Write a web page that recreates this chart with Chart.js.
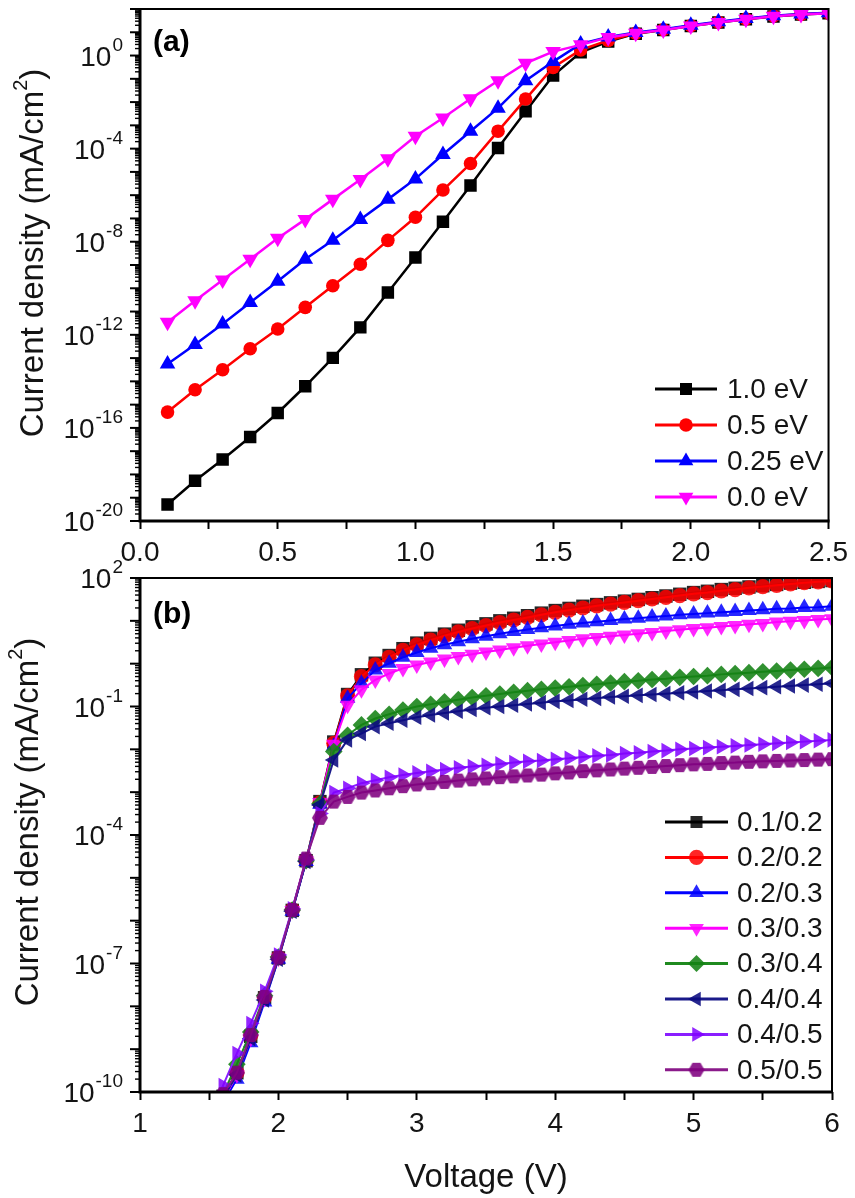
<!DOCTYPE html>
<html><head><meta charset="utf-8">
<script src="https://cdn.jsdelivr.net/npm/chart.js@4.4.1/dist/chart.umd.min.js"></script>
<style>
html,body{margin:0;padding:0;background:#fff;}
#wrap{position:relative;width:855px;height:1198px;background:#fff;overflow:hidden;}
#c1{position:absolute;left:0;top:0;}
#c2{position:absolute;left:0;top:560px;}
</style></head>
<body><div id="wrap"><canvas id="c1" width="855" height="575"></canvas><canvas id="c2" width="855" height="638"></canvas></div>
<script>
// ---------------- DATA : panel (a) ----------------
const voltageA = [0.1,0.2,0.3,0.4,0.5,0.6,0.7,0.8,0.9,1.0,1.1,1.2,1.3,1.4,1.5,1.6,1.7,1.8,1.9,2.0,2.1,2.2,2.3,2.4,2.5];
// log10 of current density (mA/cm2)
const logJ_10eV  = [-19.29,-18.27,-17.36,-16.39,-15.36,-14.21,-12.99,-11.68,-10.18,-8.68,-7.14,-5.58,-3.97,-2.40,-0.86,0.14,0.60,0.94,1.10,1.27,1.42,1.56,1.68,1.76,1.82];
const logJ_05eV  = [-15.32,-14.36,-13.50,-12.60,-11.75,-10.82,-9.89,-8.97,-7.94,-6.95,-5.78,-4.64,-3.25,-1.87,-0.51,0.24,0.65,0.96,1.11,1.28,1.43,1.57,1.70,1.77,1.83];
const logJ_025eV = [-13.25,-12.42,-11.53,-10.61,-9.70,-8.75,-7.94,-7.04,-6.18,-5.30,-4.25,-3.25,-2.26,-1.08,-0.26,0.50,0.80,0.99,1.13,1.30,1.45,1.59,1.71,1.78,1.84];
const logJ_00eV  = [-11.46,-10.54,-9.64,-8.75,-7.85,-7.04,-6.18,-5.33,-4.43,-3.47,-2.68,-1.86,-1.08,-0.33,0.17,0.46,0.78,0.96,1.10,1.27,1.42,1.56,1.69,1.76,1.82];
const labelsA = ['1.0 eV','0.5 eV','0.25 eV','0.0 eV'];
const xTickLabelsA = [0.0,0.5,1.0,1.5,2.0,2.5];
const yLabelExpA = [0,-4,-8,-12,-16,-20];

// ---------------- DATA : panel (b) ----------------
const voltageB = [1.5,1.6,1.7,1.8,1.9,2.0,2.1,2.2,2.3,2.4,2.5,2.6,2.7,2.8,2.9,3.0,3.1,3.2,3.3,3.4,3.5,3.6,3.7,3.8,3.9,4.0,4.1,4.2,4.3,4.4,4.5,4.6,4.7,4.8,4.9,5.0,5.1,5.2,5.3,5.4,5.5,5.6,5.7,5.8,5.9,6.0];
const logJ_01_02 = [-11.0,-10.1,-9.55,-8.7,-7.8,-6.87,-5.76,-4.6,-3.22,-1.83,-0.72,-0.26,0.01,0.19,0.35,0.48,0.59,0.69,0.78,0.86,0.93,1.00,1.06,1.12,1.18,1.24,1.29,1.34,1.38,1.42,1.46,1.50,1.54,1.58,1.62,1.66,1.69,1.73,1.76,1.79,1.82,1.85,1.88,1.90,1.92,1.94];
const logJ_02_02 = [-11.0,-10.1,-9.55,-8.68,-7.79,-6.86,-5.75,-4.6,-3.25,-1.86,-0.75,-0.30,-0.03,0.15,0.31,0.44,0.55,0.65,0.74,0.82,0.89,0.96,1.02,1.08,1.14,1.20,1.25,1.30,1.35,1.39,1.43,1.47,1.51,1.55,1.59,1.63,1.66,1.70,1.73,1.77,1.80,1.83,1.86,1.89,1.91,1.93];
const logJ_02_03 = [-11.2,-10.25,-9.7,-8.85,-7.9,-6.9,-5.78,-4.62,-3.28,-1.92,-0.81,-0.46,-0.15,0.01,0.15,0.26,0.36,0.44,0.51,0.58,0.64,0.70,0.75,0.80,0.84,0.88,0.92,0.95,0.98,1.01,1.04,1.06,1.09,1.11,1.14,1.16,1.18,1.20,1.22,1.24,1.26,1.28,1.29,1.31,1.32,1.34];
const logJ_03_03 = [-11.1,-10.2,-9.6,-8.75,-7.82,-6.88,-5.76,-4.6,-3.24,-1.88,-0.97,-0.61,-0.38,-0.23,-0.11,-0.03,0.04,0.11,0.17,0.22,0.27,0.32,0.37,0.42,0.46,0.50,0.54,0.58,0.61,0.64,0.67,0.70,0.73,0.76,0.79,0.82,0.84,0.87,0.89,0.92,0.94,0.97,0.99,1.01,1.03,1.05];
const logJ_03_04 = [-11.0,-10.05,-9.35,-8.6,-7.75,-6.85,-5.75,-4.6,-3.27,-2.05,-1.67,-1.43,-1.28,-1.18,-1.08,-1.00,-0.95,-0.89,-0.84,-0.79,-0.75,-0.71,-0.67,-0.63,-0.60,-0.57,-0.54,-0.51,-0.48,-0.45,-0.42,-0.40,-0.37,-0.35,-0.32,-0.30,-0.28,-0.25,-0.23,-0.21,-0.19,-0.17,-0.15,-0.13,-0.11,-0.09];
const logJ_04_04 = [-11.1,-10.15,-9.6,-8.75,-7.85,-6.9,-5.78,-4.62,-3.3,-2.25,-1.78,-1.63,-1.47,-1.39,-1.32,-1.25,-1.20,-1.15,-1.11,-1.07,-1.03,-1.00,-0.97,-0.94,-0.91,-0.88,-0.86,-0.83,-0.81,-0.78,-0.76,-0.74,-0.72,-0.70,-0.68,-0.66,-0.64,-0.62,-0.60,-0.58,-0.56,-0.54,-0.52,-0.50,-0.48,-0.46];
const logJ_04_05 = [-10.8,-9.85,-9.1,-8.4,-7.65,-6.8,-5.72,-4.58,-3.5,-3.01,-2.91,-2.79,-2.72,-2.65,-2.60,-2.55,-2.51,-2.47,-2.43,-2.40,-2.37,-2.34,-2.31,-2.28,-2.26,-2.23,-2.21,-2.18,-2.15,-2.13,-2.10,-2.08,-2.05,-2.03,-2.00,-1.98,-1.96,-1.94,-1.92,-1.90,-1.88,-1.86,-1.84,-1.82,-1.80,-1.78];
const logJ_05_05 = [-11.0,-10.05,-9.55,-8.67,-7.78,-6.86,-5.75,-4.55,-3.6,-3.22,-3.11,-3.01,-2.96,-2.91,-2.86,-2.82,-2.79,-2.76,-2.73,-2.70,-2.68,-2.65,-2.63,-2.61,-2.59,-2.56,-2.54,-2.51,-2.49,-2.47,-2.45,-2.43,-2.41,-2.39,-2.37,-2.35,-2.34,-2.32,-2.31,-2.29,-2.28,-2.27,-2.26,-2.25,-2.24,-2.23];
const labelsB = ['0.1/0.2','0.2/0.2','0.2/0.3','0.3/0.3','0.3/0.4','0.4/0.4','0.4/0.5','0.5/0.5'];
const xTickLabelsB = [1,2,3,4,5,6];
const yLabelExpB = [2,-1,-4,-7,-10];

// ---------------- STYLES ----------------
const FONT = '"Liberation Sans", Arimo, Arial, sans-serif';
const TXT = '#141414';

function hexagon(color, r) {
  const s = Math.ceil(r * 2 + 2);
  const c = document.createElement('canvas');
  c.width = s; c.height = s;
  const g = c.getContext('2d');
  g.fillStyle = color;
  g.beginPath();
  for (let i = 0; i < 6; i++) {
    const a = Math.PI / 3 * i;
    const px = s / 2 + r * Math.cos(a), py = s / 2 + r * Math.sin(a);
    if (i) g.lineTo(px, py); else g.moveTo(px, py);
  }
  g.closePath(); g.fill();
  return c;
}

const stylesA = [
  {color:'#000000', fill:'#000000', ps:'rect', r:8.8, rot:0},
  {color:'#ff0000', fill:'#ff0000', ps:'circle', r:6.8, rot:0},
  {color:'#0000ff', fill:'#0000ff', ps:'triangle', r:9, rot:0},
  {color:'#ff00ff', fill:'#ff00ff', ps:'triangle', r:9, rot:180}
];
const stylesB = [
  {color:'#000000', fill:'rgba(0,0,0,0.85)', ps:'rect', r:9.5, rot:0},
  {color:'#ff0000', fill:'rgba(255,0,0,0.85)', ps:'circle', r:7.6, rot:0},
  {color:'#0000ff', fill:'rgba(0,0,255,0.85)', ps:'triangle', r:9, rot:0},
  {color:'#ff00ff', fill:'rgba(255,0,255,0.85)', ps:'triangle', r:9, rot:180},
  {color:'#1f8a1f', fill:'rgba(20,130,20,0.88)', ps:'rectRot', r:8.8, rot:0},
  {color:'#1a1a8a', fill:'rgba(10,10,128,0.88)', ps:'triangle', r:9, rot:270},
  {color:'#8a1eff', fill:'rgba(128,0,255,0.85)', ps:'triangle', r:9, rot:90},
  {color:'#8a1a8a', fill:null, ps:null, r:8, rot:0}
];
stylesB[7].ps = hexagon('rgba(128,0,128,0.88)', 8);
stylesB[7].fill = 'rgba(128,0,128,0.88)';

function buildDatasets(xs, series, labels, styles, lw) {
  return series.map((logs, i) => {
    const st = styles[i];
    return {
      label: labels[i],
      data: xs.map((x, j) => ({x: x, y: Math.pow(10, logs[j])})),
      borderColor: st.color,
      backgroundColor: st.fill,
      pointBackgroundColor: st.fill,
      pointBorderColor: st.fill,
      pointBorderWidth: 0,
      pointStyle: st.ps,
      pointRadius: st.r,
      pointRotation: st.rot,
      borderWidth: lw,
      tension: 0,
      order: series.length - i
    };
  });
}

function drawSupText(ctx, parts, x, y) {
  let cx = x;
  for (const p of parts) {
    ctx.font = p.font;
    ctx.fillText(p.t, cx, y + p.dy);
    cx += ctx.measureText(p.t).width;
  }
  return cx - x;
}
function measureParts(ctx, parts) {
  let w = 0;
  for (const p of parts) { ctx.font = p.font; w += ctx.measureText(p.t).width; }
  return w;
}

function panelPlugin(cfg) {
  return {
    id: 'panel' + cfg.id,
    afterDraw(chart) {
      const ctx = chart.ctx, a = chart.chartArea, ys = chart.scales.y;
      ctx.save();
      ctx.strokeStyle = '#000';
      ctx.lineCap = 'butt';
      // frame
      ctx.lineWidth = 2;
      ctx.beginPath(); ctx.moveTo(a.left, a.top); ctx.lineTo(a.right, a.top); ctx.lineTo(a.right, a.bottom); ctx.stroke();
      ctx.lineWidth = 3;
      ctx.beginPath(); ctx.moveTo(a.left, a.top - 1); ctx.lineTo(a.left, a.bottom); ctx.lineTo(a.right + 1, a.bottom); ctx.stroke();
      // y ticks (decades major, 2..9 minor)
      for (let e = cfg.yMinExp; e <= cfg.yMaxExp; e++) {
        const yy = ys.getPixelForValue(Math.pow(10, e));
        ctx.lineWidth = 2;
        ctx.beginPath(); ctx.moveTo(a.left - 10, yy); ctx.lineTo(a.left, yy); ctx.stroke();
        if (e < cfg.yMaxExp) {
          ctx.lineWidth = 1.4;
          for (let k = 2; k <= 9; k++) {
            const ym = ys.getPixelForValue(k * Math.pow(10, e));
            ctx.beginPath(); ctx.moveTo(a.left - 5, ym); ctx.lineTo(a.left, ym); ctx.stroke();
          }
        }
      }
      // y tick labels 10^n
      ctx.fillStyle = TXT;
      ctx.textBaseline = 'alphabetic';
      ctx.textAlign = 'left';
      for (const e of cfg.yLabels) {
        const yy = ys.getPixelForValue(Math.pow(10, e));
        const expStr = String(e);
        ctx.font = '19px ' + FONT;
        const we = ctx.measureText(expStr).width;
        ctx.font = '28px ' + FONT;
        const wb = ctx.measureText('10').width;
        const right = a.left - 17;
        ctx.font = '19px ' + FONT;
        ctx.fillText(expStr, right - we, yy - 5);
        ctx.font = '28px ' + FONT;
        ctx.fillText('10', right - we - 1 - wb, yy + 10);
      }
      // y title
      const tparts = [
        {t:'Current density (mA/cm', font:'33px ' + FONT, dy:0},
        {t:'2', font:'20px ' + FONT, dy:-16},
        {t:')', font:'33px ' + FONT, dy:0}
      ];
      ctx.save();
      ctx.translate(cfg.yTitleX, cfg.yTitleCY);
      ctx.rotate(-Math.PI / 2);
      const tw = measureParts(ctx, tparts);
      drawSupText(ctx, tparts, -tw / 2, 0);
      ctx.restore();
      // x title
      if (cfg.xTitle) {
        ctx.font = '33px ' + FONT;
        ctx.textAlign = 'center';
        ctx.fillText(cfg.xTitle, (a.left + a.right) / 2, cfg.xTitleY);
        ctx.textAlign = 'left';
      }
      // panel label
      ctx.font = 'bold 30px ' + FONT;
      ctx.fillStyle = '#000';
      ctx.fillText(cfg.panelLabel, a.left + 13, a.top + cfg.panelLabelDY);
      // legend
      const L = cfg.legend;
      for (let i = 0; i < L.labels.length; i++) {
        const st = L.styles[i];
        const yy = L.y0 + i * L.dy;
        ctx.strokeStyle = st.color;
        ctx.lineWidth = 3;
        ctx.beginPath(); ctx.moveTo(L.x1, yy); ctx.lineTo(L.x2, yy); ctx.stroke();
        ctx.fillStyle = st.fill;
        Chart.helpers.drawPoint(ctx, {pointStyle: st.ps, rotation: st.rot, radius: Math.min(st.r, 8.5), borderWidth: 0}, (L.x1 + L.x2) / 2, yy);
        ctx.fillStyle = TXT;
        ctx.font = '28px ' + FONT;
        ctx.textBaseline = 'middle';
        ctx.fillText(L.labels[i], L.tx, yy + 1);
        ctx.textBaseline = 'alphabetic';
      }
      ctx.restore();
    }
  };
}

function makeChart(canvasId, opts) {
  return new Chart(document.getElementById(canvasId), {
    type: 'line',
    data: {datasets: opts.datasets},
    options: {
      responsive: false,
      animation: false,
      devicePixelRatio: 1,
      layout: {padding: {left: 0, right: 23, top: opts.padTop, bottom: 0}},
      plugins: {legend: {display: false}, tooltip: {enabled: false}},
      scales: {
        x: {
          type: 'linear', min: opts.xMin, max: opts.xMax,
          afterFit: s => { s.height = opts.xAxisH; },
          grid: {display: true, drawOnChartArea: false, drawTicks: true, tickLength: 8, tickWidth: 2, tickColor: '#000', color: 'rgba(0,0,0,0)'},
          border: {display: false},
          ticks: {
            stepSize: opts.xStep, autoSkip: false, maxRotation: 0, minRotation: 0,
            padding: 7, color: TXT, font: {family: FONT, size: 28},
            callback: opts.xCallback
          }
        },
        y: {
          type: 'logarithmic', min: opts.yMin, max: opts.yMax,
          afterFit: s => { s.width = 140; },
          grid: {display: false},
          border: {display: false},
          ticks: {display: false}
        }
      }
    },
    plugins: [panelPlugin(opts.panel)]
  });
}

function isIn(list, v) { return list.some(t => Math.abs(t - v) < 1e-6); }

makeChart('c1', {
  datasets: buildDatasets(voltageA, [logJ_10eV, logJ_05eV, logJ_025eV, logJ_00eV], labelsA, stylesA, 2.5),
  padTop: 8, xAxisH: 54, xMin: 0, xMax: 2.5, xStep: 0.25, yMin: 1e-20, yMax: 1e2,
  xCallback: v => isIn(xTickLabelsA, v) ? v.toFixed(1) : '',
  panel: {
    id: 'a', yMinExp: -20, yMaxExp: 2, yLabels: yLabelExpA,
    yTitleX: 43, yTitleCY: 253, xTitle: null, panelLabel: '(a)', panelLabelDY: 42,
    legend: {labels: labelsA, styles: stylesA, x1: 655, x2: 717, tx: 727, y0: 389, dy: 36}
  }
});

makeChart('c2', {
  datasets: buildDatasets(voltageB, [logJ_01_02, logJ_02_02, logJ_02_03, logJ_03_03, logJ_03_04, logJ_04_04, logJ_04_05, logJ_05_05], labelsB, stylesB, 2),
  padTop: 18, xAxisH: 106, xMin: 1, xMax: 6, xStep: 0.5, yMin: 1e-10, yMax: 1e2,
  xCallback: v => isIn(xTickLabelsB, v) ? String(Math.round(v)) : '',
  panel: {
    id: 'b', yMinExp: -10, yMaxExp: 2, yLabels: yLabelExpB,
    yTitleX: 38, yTitleCY: 822 - 560, xTitle: 'Voltage (V)', xTitleY: 1187 - 560, panelLabel: '(b)', panelLabelDY: 45,
    legend: {labels: labelsB, styles: stylesB, x1: 665, x2: 728, tx: 737, y0: 822 - 560, dy: 35.4}
  }
});
</script>
</body></html>
